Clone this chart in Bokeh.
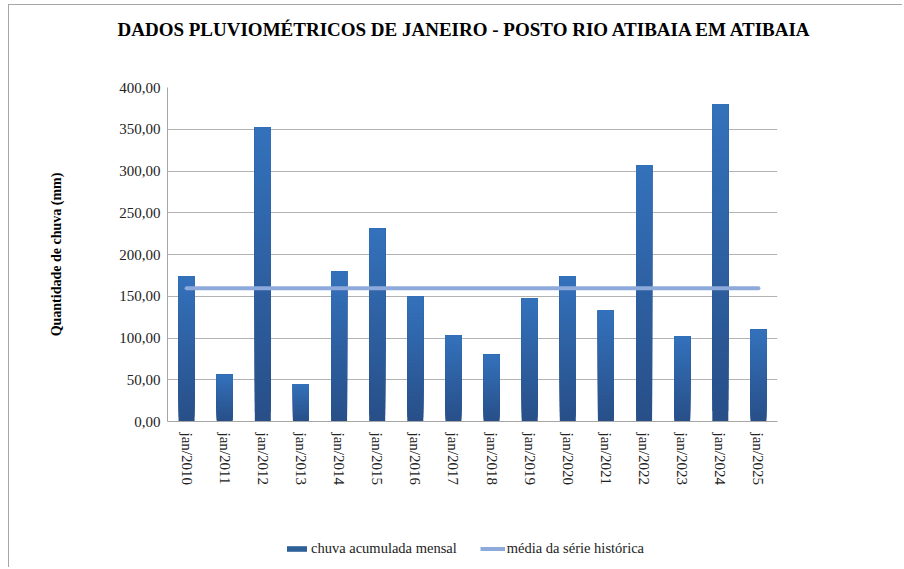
import numpy as np
from bokeh.plotting import figure
from bokeh.layouts import column
from bokeh.models import (FactorRange, Range1d, CustomJSTickFormatter, Legend,
                          LegendItem, ColumnDataSource, FixedTicker)
from bokeh.embed import file_html
from bokeh.resources import INLINE

# ---- data ----
categories = ["jan/2010", "jan/2011", "jan/2012", "jan/2013", "jan/2014", "jan/2015",
              "jan/2016", "jan/2017", "jan/2018", "jan/2019", "jan/2020", "jan/2021",
              "jan/2022", "jan/2023", "jan/2024", "jan/2025"]
chuva = [174, 56, 352, 45, 180, 231, 150, 103, 80, 148, 174, 133, 307, 102, 380, 110]
media = 159.5
y_ticks = [0, 50, 100, 150, 200, 250, 300, 350, 400]
serie_labels = ["chuva acumulada mensal", "média da série histórica"]
title_text = "DADOS PLUVIOMÉTRICOS DE JANEIRO - POSTO RIO ATIBAIA EM ATIBAIA"

FONT = "Liberation Serif"
BAR_MID = "#2e6099"
LINE_COLOR = "#8eaadb"
BORDER = "#a6a6a6"
W = 902


def strip(height):
    f = figure(width=W, height=height, x_range=Range1d(0, 1), y_range=Range1d(0, 1),
               output_backend="svg", toolbar_location=None, x_axis_location=None,
               y_axis_location=None, min_border=0)
    f.grid.grid_line_color = None
    f.outline_line_color = None
    f.border_fill_color = None
    f.background_fill_color = None
    return f


# ---- title strip ----
p0 = strip(70)
p0.styles = {
    "background": (f"linear-gradient({BORDER},{BORDER}) 8px 4px / 1px 100% no-repeat, "
                   f"linear-gradient({BORDER},{BORDER}) 8px 4px / 100% 1px no-repeat, white"),
}
p0.title.text = title_text
p0.title.text_font = FONT
p0.title.text_font_size = "19px"
p0.title.text_font_style = "bold"
p0.title.align = "left"
p0.title.offset = -50
p0.title.vertical_align = "top"
p0.title.standoff = 36
p0.title.text_color = "#000000"

# ---- main chart ----
p = figure(width=W, height=430, x_range=FactorRange(*categories, range_padding=0),
           y_range=Range1d(0, 400), output_backend="svg", toolbar_location=None,
           min_border_left=167, min_border_right=125, min_border_top=17,
           min_border_bottom=79)
p.border_fill_color = None
p.background_fill_color = "white"
p.styles = {
    "background": f"linear-gradient({BORDER},{BORDER}) 8px 0px / 1px 100% no-repeat, white",
}

# gradient bars: overlapping slices, darker at the bottom, lighter at the top
N = 30
dark = np.array([0x28, 0x4f, 0x88])
light = np.array([0x34, 0x72, 0xbc])
xs, bots, tops, cols = [], [], [], []
for j in range(N):
    t = (j + 0.5) / N
    rgb = (dark + (light - dark) * t).astype(int)
    for c, v in zip(categories, chuva):
        xs.append(c)
        bots.append(v * j / N)
        tops.append(v)
        cols.append("#%02x%02x%02x" % tuple(rgb))
src = ColumnDataSource(dict(x=xs, bottom=bots, top=tops, color=cols))
p.vbar(x="x", bottom="bottom", top="top", width=0.42, fill_color="color",
       line_color=None, source=src)

p.line(x=[categories[0], categories[-1]], y=[media, media], line_width=4,
       line_color=LINE_COLOR, line_cap="round")

p.xgrid.grid_line_color = None
p.ygrid.grid_line_color = "#b3b3b3"
p.outline_line_color = None

p.yaxis.ticker = FixedTicker(ticks=y_ticks)
p.yaxis.formatter = CustomJSTickFormatter(code="return tick.toFixed(2).replace('.', ',');")
for ax in (p.xaxis[0], p.yaxis[0]):
    ax.axis_line_color = BORDER
    ax.major_tick_line_color = None
    ax.minor_tick_line_color = None
    ax.major_label_text_font = FONT
    ax.major_label_text_font_size = "15px"
    ax.major_label_text_color = "#222222"
p.yaxis.major_label_standoff = 1
p.xaxis.major_label_standoff = 5
p.xaxis.major_label_orientation = "vertical"
p.yaxis.axis_label = "Quantidade de chuva (mm)"
p.yaxis.axis_label_text_font = FONT
p.yaxis.axis_label_text_font_size = "14px"
p.yaxis.axis_label_text_font_style = "bold"
p.yaxis.axis_label_text_color = "#000000"
p.yaxis.axis_label_standoff = 52

# ---- legend strip below the chart ----
p2 = strip(67)
p2.styles = {
    "background": f"linear-gradient({BORDER},{BORDER}) 8px 0px / 1px 100% no-repeat, white",
}
# legend-only renderers: NaN values, so nothing is drawn in the strip itself
leg_src = ColumnDataSource(dict(x=[float("nan")], top=[float("nan")]))
r_bar = p2.vbar(x="x", top="top", width=0.1, fill_color=BAR_MID, line_color=None,
                source=leg_src)
r_line = p2.line(x="x", y="top", line_width=4, line_color=LINE_COLOR, source=leg_src)

legend = Legend(items=[LegendItem(label=serie_labels[0], renderers=[r_bar]),
                       LegendItem(label=serie_labels[1], renderers=[r_line])],
                orientation="horizontal", location=(117, 10), margin=0, padding=0,
                spacing=23, label_standoff=2, glyph_width=25, glyph_height=7,
                label_height=14, label_text_font=FONT, label_text_font_size="14.5px",
                label_text_color="#222222", border_line_color=None,
                background_fill_alpha=0)
p2.add_layout(legend, "center")

layout = column(p0, p, p2, spacing=0)
open("out.html", "w").write(file_html(layout, INLINE))
